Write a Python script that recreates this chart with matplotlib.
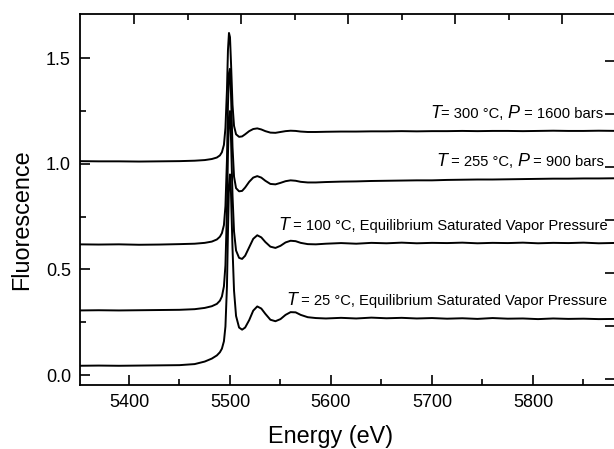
import matplotlib
matplotlib.use("Agg")
import matplotlib.pyplot as plt
from matplotlib.transforms import offset_copy
from matplotlib.ticker import MultipleLocator, FixedLocator

plt.rcParams['font.family'] = ['Liberation Sans', 'DejaVu Sans']

energy = [5350, 5370, 5390, 5410, 5430, 5450, 5465, 5475, 5482, 5487, 5490, 5492, 5494, 5495.5,
          5497, 5498, 5499, 5500, 5501, 5502.5, 5504, 5506, 5509, 5512, 5515, 5519, 5523, 5527,
          5531, 5535, 5540, 5545, 5550, 5555, 5560, 5565, 5570, 5577, 5585, 5595, 5610, 5625,
          5640, 5655, 5670, 5685, 5700, 5715, 5730, 5745, 5760, 5775, 5790, 5805, 5820, 5835,
          5850, 5865, 5885]

fl_25C = [0.044, 0.045, 0.044, 0.045, 0.046, 0.047, 0.052, 0.064, 0.078, 0.093, 0.108, 0.125, 0.16, 0.23,
          0.42, 0.68, 0.90, 0.95, 0.86, 0.60, 0.40, 0.28, 0.225, 0.215, 0.225, 0.26, 0.305, 0.325,
          0.315, 0.29, 0.262, 0.255, 0.265, 0.285, 0.298, 0.297, 0.285, 0.274, 0.27, 0.268, 0.271, 0.268,
          0.272, 0.269, 0.271, 0.268, 0.27, 0.267, 0.269, 0.266, 0.27, 0.267, 0.268, 0.265, 0.268, 0.266,
          0.267, 0.265, 0.266]

fl_100C = [0.306, 0.307, 0.306, 0.307, 0.308, 0.309, 0.312, 0.318, 0.326, 0.337, 0.352, 0.372, 0.42, 0.52,
           0.78, 1.05, 1.22, 1.25, 1.12, 0.85, 0.68, 0.59, 0.555, 0.55, 0.565, 0.605, 0.645, 0.662,
           0.652, 0.63, 0.608, 0.602, 0.612, 0.628, 0.636, 0.634, 0.626, 0.62, 0.619, 0.622, 0.625, 0.622,
           0.626, 0.624, 0.627, 0.624, 0.626, 0.625, 0.627, 0.624, 0.626, 0.625, 0.627, 0.624, 0.626, 0.625,
           0.627, 0.624, 0.626]

fl_255C = [0.619, 0.618, 0.619, 0.617, 0.618, 0.62, 0.622, 0.626, 0.632, 0.642, 0.655, 0.672, 0.71, 0.80,
           1.02, 1.28, 1.43, 1.45, 1.33, 1.08, 0.94, 0.885, 0.87, 0.872, 0.888, 0.915, 0.935, 0.942,
           0.935, 0.92, 0.905, 0.903, 0.91, 0.918, 0.922, 0.92, 0.915, 0.912, 0.912, 0.914, 0.916, 0.917,
           0.919, 0.92, 0.921, 0.922, 0.922, 0.924, 0.925, 0.926, 0.926, 0.927, 0.928, 0.929, 0.93, 0.93,
           0.931, 0.931, 0.932]

fl_300C = [1.013, 1.012, 1.012, 1.011, 1.012, 1.013, 1.015, 1.018, 1.023, 1.03, 1.04, 1.055, 1.09, 1.17,
           1.35, 1.54, 1.62, 1.60, 1.48, 1.28, 1.18, 1.14, 1.128, 1.13, 1.14, 1.155, 1.165, 1.168,
           1.163, 1.155, 1.148, 1.147, 1.151, 1.155, 1.157, 1.156, 1.153, 1.151, 1.151, 1.152, 1.153, 1.153,
           1.154, 1.154, 1.155, 1.154, 1.155, 1.155, 1.156, 1.155, 1.156, 1.156, 1.155, 1.156, 1.157, 1.156,
           1.156, 1.157, 1.156]

series = [fl_25C, fl_100C, fl_255C, fl_300C]

# label pieces: (text, italic?) ; anchor (energy, fluorescence) = baseline, right end
labels = [
    ([("T", True), (" = 25 °C, Equilibrium Saturated Vapor Pressure", False)], (5873.3, 0.332)),
    ([("T", True), (" = 100 °C, Equilibrium Saturated Vapor Pressure", False)], (5874.3, 0.687)),
    ([("T", True), (" = 255 °C, ", False), ("P", True), (" = 900 bars", False)], (5870.3, 0.988)),
    ([("T", True), ("= 300 °C, ", False), ("P", True), (" = 1600 bars", False)], (5869.3, 1.215)),
]

xlabel = "Energy (eV)"
ylabel = "Fluorescence"

W, H = 614, 449
fig = plt.figure(figsize=(W / 100, H / 100), dpi=100)
ax = fig.add_axes([80 / W, (H - 385) / H, (615 - 80) / W, (385 - 13.5) / H])

for s in series:
    ax.plot(energy, s, color='black', lw=1.4)

ax.set_xlim(5351.5, 5881.2)
ax.set_ylim(-0.047, 1.712)
ax.xaxis.set_major_locator(MultipleLocator(100))
ax.xaxis.set_minor_locator(MultipleLocator(50))
ax.yaxis.set_major_locator(FixedLocator([0.0, 0.5, 1.0, 1.5]))
ax.yaxis.set_minor_locator(MultipleLocator(0.25))
ax.set_yticklabels(["0.0", "0.5", "1.0", "1.5"])
ax.tick_params(which='both', direction='in', top=False, right=False, width=1.2, labelsize=13, pad=6.5)
ax.tick_params(which='major', length=7)
ax.tick_params(which='minor', length=4)
for sp in ax.spines.values():
    sp.set_linewidth(1.3)

# top axis ticks (scanned original: slightly different spacing)
axt = ax.twiny()
axt.set_xlim(ax.get_xlim())
axt.xaxis.set_major_locator(FixedLocator([5405, 5511, 5617, 5723, 5829]))
axt.xaxis.set_minor_locator(FixedLocator([5458, 5564, 5670, 5776]))
axt.tick_params(which='both', direction='in', top=True, bottom=False, labeltop=False, width=1.2)
axt.tick_params(which='major', length=7)
axt.tick_params(which='minor', length=4)
for sp in axt.spines.values():
    sp.set_visible(False)

axr = ax.twinx()
axr.set_ylim(ax.get_ylim())
axr.yaxis.set_major_locator(FixedLocator([-0.019, 0.232, 0.483, 0.734, 0.985, 1.234, 1.488]))
axr.tick_params(which='both', direction='in', right=True, left=False, labelright=False, width=1.2, length=7)
for sp in axr.spines.values():
    sp.set_visible(False)

ax.set_xlabel(xlabel, fontsize=16.8)
ax.set_ylabel(ylabel, fontsize=16.8)
ax.xaxis.set_label_coords(0.468, -0.109)
ax.xaxis.label.set_va('top')
ax.yaxis.set_label_coords(-0.087, 0.4455)

renderer = fig.canvas.get_renderer()
for pieces, (rx, ry) in labels:
    arts = []
    for txt, ital in pieces:
        if ital:
            t = ax.text(rx, ry, txt, fontsize=13, style='italic', ha='left', va='baseline')
        else:
            t = ax.text(rx, ry, txt, fontsize=10.6, ha='left', va='baseline')
        arts.append(t)
    widths = [a.get_window_extent(renderer).width for a in arts]
    xoff = -sum(widths)
    for a, w in zip(arts, widths):
        a.set_transform(offset_copy(ax.transData, fig=fig, x=xoff, y=0, units='dots'))
        xoff += w

fig.savefig("out.png", dpi=100)
